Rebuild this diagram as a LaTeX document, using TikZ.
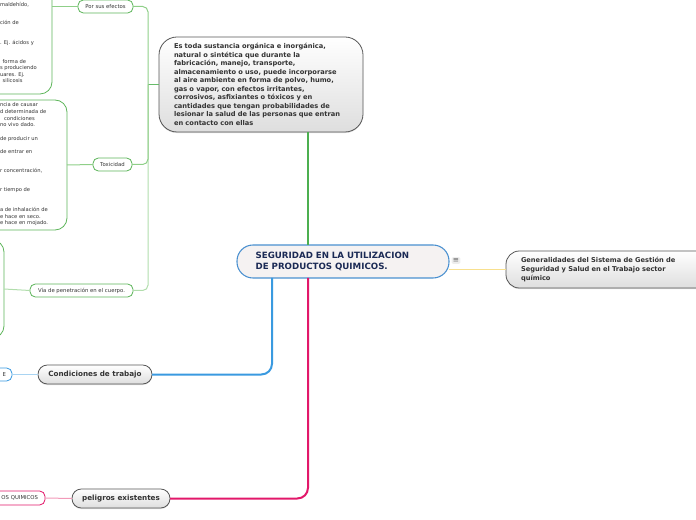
\documentclass[tikz,border=0pt]{standalone}
\usepackage{fontspec}
\setmainfont{DejaVu Sans}
\usetikzlibrary{positioning,calc,shadows}
\definecolor{stemgreen}{HTML}{4CAF50}
\definecolor{leafgreen}{HTML}{8FCF88}
\definecolor{boxgreen}{HTML}{5DB55A}
\definecolor{stemblue}{HTML}{3A9AE0}
\definecolor{leafblue}{HTML}{A9D4F2}
\definecolor{stempink}{HTML}{E2186A}
\definecolor{leafpink}{HTML}{F29AB9}
\definecolor{rootblue}{HTML}{4A90D0}
\definecolor{rootfill}{HTML}{F5F2F2}
\definecolor{rootink}{HTML}{1B2A55}
\definecolor{linkyellow}{HTML}{F8E08E}
\definecolor{topicdraw}{HTML}{555555}

\begin{document}
\begin{tikzpicture}[
  x=0.75pt, y=-0.75pt,
  every node/.style={inner sep=0pt, outer sep=0pt},
  root/.style={draw=rootblue, line width=0.8pt, fill=rootfill, rounded corners=12pt, inner xsep=14pt, minimum height=24.75pt, text width=131pt, align=left, font=\fontsize{6.5}{8.3}\selectfont\bfseries, text=rootink},
  topic/.style={draw=topicdraw, line width=0.6pt, top color=white, bottom color=black!13, drop shadow={opacity=0.25, shadow xshift=0pt, shadow yshift=-0.8pt}, font=\fontsize{5}{6.4}\selectfont\bfseries, text=black!80},
  sub/.style={draw=boxgreen, line width=0.6pt, fill=white, rounded corners=4pt, minimum height=9.75pt, font=\fontsize{4}{4.8}\selectfont, text=black!80},
  leafbox/.style={draw=boxgreen, line width=0.6pt, fill=white, rounded corners=9pt},
  leaftext/.style={anchor=north west, align=left, font=\fontsize{3.9}{4.95}\selectfont, text=black!80},
  stem/.style={line width=1.5pt},
  twig/.style={line width=0.75pt, rounded corners=4pt}
]
\useasboundingbox (0,0) rectangle (696,520);

\node[root] (root) at (343,261.5) {SEGURIDAD EN LA UTILIZACION\\DE PRODUCTOS QUIMICOS.};
\node[topic, rounded corners=13.5pt, inner xsep=11.25pt, text width=130.5pt, minimum height=71.25pt, align=left] (desc) at (261,84.5) {Es toda sustancia orgánica e inorgánica,\\natural o sintética que durante la\\fabricación, manejo, transporte,\\almacenamiento o uso, puede incorporarse\\al aire ambiente en forma de polvo, humo,\\gas o vapor, con efectos irritantes,\\corrosivos, asfixiantes o tóxicos y en\\cantidades que tengan probabilidades de\\lesionar la salud de las personas que entran\\en contacto con ellas};
\node[topic, rounded corners=10pt, anchor=west, inner xsep=11.25pt, text width=160pt, minimum height=27.75pt, align=left] (gen) at (506,269.5) {Generalidades del Sistema de Gestión de\\Seguridad y Salud en el Trabajo sector\\químico};
\node[topic, rounded corners=7pt, minimum width=85.5pt, minimum height=14.25pt, font=\fontsize{5.4}{6.4}\selectfont\bfseries] (cond) at (95,374.5) {Condiciones de trabajo};
\node[topic, rounded corners=7pt, minimum width=73.5pt, minimum height=14.25pt, font=\fontsize{5.4}{6.4}\selectfont\bfseries] (pelig) at (121,498.5) {peligros existentes};

\node[sub, minimum width=41.25pt] (efectos) at (105.5,6.5) {Por sus efectos};
\node[sub, minimum width=29.25pt] (toxic) at (112.5,164.5) {Toxicidad};
\node[sub, minimum width=77.25pt] (via) at (81.5,290.5) {Vía de penetración en el cuerpo.};

\node[leafbox, minimum width=114pt, minimum height=132pt] (efbox) at (-24,6) {};
\node[leafbox, minimum width=125.25pt, minimum height=97.5pt] (toxbox) at (-16.5,165) {};
\node[leafbox, minimum width=78pt, minimum height=73.5pt] (viabox) at (-48,289) {};
\node[leaftext] (eftext) at (0,2) {maldehído,\\[8.5pt]
ción de\\[10pt]
. Ej. ácidos y\\[9.3pt]
\hspace*{2pt}forma de\\
s produciendo\\
uares. Ej.\\
\hspace*{2pt}silicosis};
\node[leaftext] (toxtext) at (0,103) {ncia de causar\\
d determinada de\\
\hspace*{3pt}condiciones\\
no vivo dado.\\[5.5pt]
de producir un\\[4.75pt]
de entrar en\\[9.25pt]
r concentración,\\[9.25pt]
r tiempo de\\[10pt]
a de inhalación de\\
e hace en seco.\\
e hace en mojado.};

\node[draw=stemblue, line width=0.6pt, fill=white, rounded corners=4pt, minimum width=54pt, minimum height=9.75pt, inner xsep=4.5pt, text width=45pt, align=right, font=\fontsize{4}{4.8}\selectfont, text=black!80] (condleaf) at (-24,374.5) {E};
\node[draw=stempink, line width=0.6pt, fill=white, rounded corners=4pt, minimum width=63.75pt, minimum height=10.5pt, inner xsep=5.25pt, text width=53.25pt, align=right, font=\fontsize{4}{4.8}\selectfont, text=black!80] (peligleaf) at (2.5,498) {OS QUIMICOS};

\coordinate (gstem) at (308,0);
\coordinate (bstem) at (272,0);
\coordinate (gfork) at (148,84.5);

\draw[stem, stemgreen] (gstem |- root.north) -- (gstem |- desc.south);
\draw[line width=1pt, stemgreen!85] (desc.west) -- (gfork);
\draw[twig, leafgreen!70!white] (gfork) |- (via.east);
\draw[twig, leafgreen] (gfork) |- (toxic.east);
\draw[twig, leafgreen] (gfork) |- (efectos.east);
\draw[twig, leafgreen] (efectos.west) -- (efectos.west -| efbox.east);
\draw[twig, leafgreen] (toxic.west) -- (toxbox.east);
\draw[twig, leafgreen!70!white] (via.west) -- (viabox.east);
\draw[stem, stemblue, rounded corners=8pt] (bstem |- root.south) |- (cond.east);
\draw[twig, leafblue] (cond.west) -- (condleaf.east);
\draw[stem, stempink, rounded corners=8pt] (gstem |- root.south) |- (pelig.east);
\draw[twig, leafpink] (pelig.west) -- (peligleaf.east);
\draw[line width=1.1pt, linkyellow] (root.east |- gen.west) -- (gen.west);
\node[fill=black!7, rounded corners=1pt, inner sep=1pt, font=\fontsize{5.5}{5.5}\selectfont, text=black!60] (menu) at (456,260.5) {≡};
\end{tikzpicture}
\end{document}
